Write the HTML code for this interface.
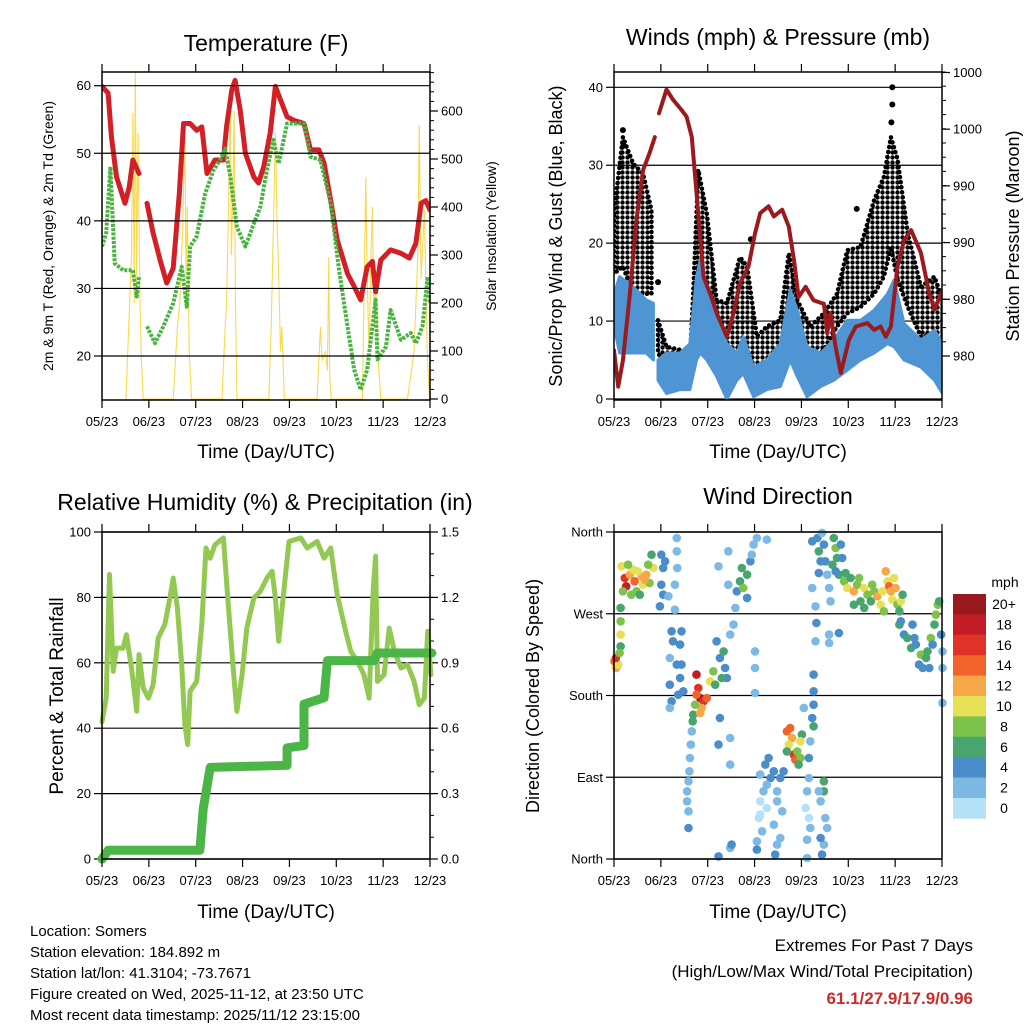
<!DOCTYPE html>
<html><head><meta charset="utf-8"><title>Station Meteogram</title>
<style>
html,body{margin:0;padding:0;background:#fff}
svg{display:block;font-family:"Liberation Sans",Arial,sans-serif}
</style></head>
<body>
<svg id="chart" width="1024" height="1024" viewBox="0 0 1024 1024" xmlns="http://www.w3.org/2000/svg">
<defs>
<pattern id="dotpat" width="5" height="5" patternUnits="userSpaceOnUse"><circle cx="2.5" cy="2.5" r="2.2" fill="#000"/></pattern>
</defs>
<rect x="0" y="0" width="1024" height="1024" fill="#fff"/>
<g id="layer"></g>
<text x="266" y="51" font-size="23" text-anchor="middle">Temperature (F)</text>
<text x="778" y="45" font-size="23" text-anchor="middle">Winds (mph) &amp; Pressure (mb)</text>
<text x="265" y="510" font-size="23" text-anchor="middle">Relative Humidity (%) &amp; Precipitation (in)</text>
<text x="778" y="504" font-size="23" text-anchor="middle">Wind Direction</text>
<text x="266" y="458" font-size="19" text-anchor="middle">Time (Day/UTC)</text>
<text x="778" y="458" font-size="19" text-anchor="middle">Time (Day/UTC)</text>
<text x="266" y="918" font-size="19" text-anchor="middle">Time (Day/UTC)</text>
<text x="778" y="918" font-size="19" text-anchor="middle">Time (Day/UTC)</text>
<text transform="translate(53,236) rotate(-90)" font-size="14" text-anchor="middle">2m &amp; 9m T (Red, Orange) &amp; 2m Td (Green)</text>
<text transform="translate(496,236) rotate(-90)" font-size="14" text-anchor="middle">Solar Insolation (Yellow)</text>
<text transform="translate(562,236) rotate(-90)" font-size="18" text-anchor="middle">Sonic/Prop Wind &amp; Gust (Blue, Black)</text>
<text transform="translate(1019,236) rotate(-90)" font-size="18" text-anchor="middle">Station Pressure (Maroon)</text>
<text transform="translate(63,696) rotate(-90)" font-size="19" text-anchor="middle">Percent &amp; Total Rainfall</text>
<text transform="translate(539,696) rotate(-90)" font-size="18" text-anchor="middle">Direction (Colored By Speed)</text>
<text x="1005" y="587" font-size="14" text-anchor="middle">mph</text>
<g font-size="15">
<text x="30" y="936">Location: Somers</text>
<text x="30" y="957">Station elevation: 184.892 m</text>
<text x="30" y="978">Station lat/lon: 41.3104; -73.7671</text>
<text x="30" y="999">Figure created on Wed, 2025-11-12, at 23:50 UTC</text>
<text x="30" y="1020">Most recent data timestamp: 2025/11/12 23:15:00</text>
</g>
<text x="973" y="951" font-size="17" text-anchor="end">Extremes For Past 7 Days</text>
<text x="973" y="977" font-size="17" text-anchor="end">(High/Low/Max Wind/Total Precipitation)</text>
<text x="973" y="1004" font-size="17" font-weight="bold" fill="#cc2b2b" text-anchor="end">61.1/27.9/17.9/0.96</text>
</svg>
<script>
// ---------- data ----------
const xTickLabels = ["05/23","06/23","07/23","08/23","09/23","10/23","11/23","12/23"];
const tempTicks = [20,30,40,50,60];
const solarTicks = [0,100,200,300,400,500,600];
const windTicks = [0,10,20,30,40];
const pressTickVals = [977.5,982.5,987.5,992.5,997.5,1002.5];
const pressTickLabels = ["980","980","990","990","1000","1000"];
const rhTicks = [0,20,40,60,80,100];
const rainTicks = [0,0.3,0.6,0.9,1.2,1.5];
const rainTickLabels = ["0.0","0.3","0.6","0.9","1.2","1.5"];
const dirTicks = [0,90,180,270,360];
const dirTickLabels = ["North","East","South","West","North"];
const speedBins = ["0","2","4","6","8","10","12","14","16","18","20+"];
const speedColors = ["#b4e1f6","#7cb9e4","#4a8dc8","#47a56d","#7cc24b","#e6e057","#f6a847","#f0632b","#df3327","#c21d26","#991a1d"];

const tempT = [[0,59.9],[0.13,58.9],[0.2,52.5],[0.31,46.5],[0.49,42.6],[0.58,45],[0.66,49],[0.79,47],null,[0.96,42.6],[1.09,38.2],[1.24,34.2],[1.38,30.8],[1.52,33],[1.65,44],[1.74,54.4],[1.88,54.4],[2.02,53.4],[2.13,53.9],[2.24,47],[2.41,49],[2.59,49],[2.66,54],[2.77,59.4],[2.84,60.8],[2.95,56.4],[3.06,50],[3.24,46.5],[3.34,45.6],[3.45,48],[3.59,53],[3.7,59.9],[3.81,57.9],[3.95,55.4],[4.09,54.9],[4.31,54.4],[4.45,50.5],[4.63,50.5],[4.74,48.5],[4.88,43],[5.02,37.2],[5.24,32.2],[5.38,30.3],[5.52,28.3],[5.66,33.2],[5.77,34],[5.84,29.5],[5.95,34.2],[6.16,35.7],[6.38,35.2],[6.56,34.5],[6.7,36.7],[6.81,42.6],[6.91,43],[7,41.6]];
const tempTd = [[0,36.2],[0.09,38.2],[0.18,48],[0.27,33.7],[0.45,32.7],[0.66,32.7],[0.74,28.8],[0.79,31.7],null,[0.96,24.4],[1.13,21.9],[1.31,24.4],[1.52,27.8],[1.7,33.2],[1.81,27.3],[1.88,36.2],[2.02,37.7],[2.2,44],[2.38,47.5],[2.52,49],[2.63,50.7],[2.74,46.5],[2.88,39.1],[3.06,36.2],[3.24,39.6],[3.38,42.1],[3.52,47.5],[3.66,52],[3.77,48.5],[3.95,54.4],[4.31,54.4],[4.45,49.5],[4.66,49],[4.88,42.6],[5.06,32.7],[5.24,24.4],[5.38,18],[5.52,15],[5.66,18],[5.84,28.3],[5.88,19.5],[6.06,21.4],[6.16,26.8],[6.38,22.4],[6.59,23.4],[6.7,21.9],[6.84,24.4],[6.95,31.7],[7,27.8]];
const solar = [[0.51,0],[0.63,300],[0.66,596],[0.69,200],[0.71,682],[0.74,250],[0.77,554],[0.81,200],[0.84,81],[0.88,0],[1.52,0],[1.61,150],[1.66,200],[1.72,350],[1.77,567],[1.79,250],[1.82,400],[1.86,100],[1.91,0],[2.56,0],[2.63,150],[2.66,200],[2.7,400],[2.74,644],[2.76,300],[2.79,400],[2.82,600],[2.85,200],[2.88,0],[3.56,0],[3.61,150],[3.66,370],[3.7,554],[3.74,350],[3.76,300],[3.81,100],[3.84,150],[3.89,0],[4.59,0],[4.66,150],[4.7,80],[4.77,100],[4.81,60],[4.84,296],[4.86,50],[4.89,0],[5.56,0],[5.59,200],[5.63,462],[5.66,250],[5.7,100],[5.74,300],[5.77,400],[5.81,150],[5.84,250],[5.88,100],[5.95,0],[6.52,0],[6.59,50],[6.66,100],[6.74,300],[6.77,571],[6.81,250],[6.88,394],[6.94,100],[6.99,0]];
// sustained wind envelope [t, high, low]
const windBand = [[0,13.5,9.3],[0.12,15.7,5.9],[0.41,14.4,5.9],[0.69,12.7,5.9],[0.84,12.3,5],null,[0.94,5,2.4],[1.12,5.9,0.7],[1.41,5.9,1.2],[1.62,7.1,1.2],[1.76,15.7,5],[1.84,17.8,5.9],[1.98,14.4,5],[2.19,10.1,2.9],[2.41,7.1,0],[2.62,5.9,2.4],[2.76,8,3.3],[2.98,4.1,0.3],[3.26,5,1.2],[3.55,7.1,1.6],[3.76,14,5],[3.91,11.4,2.9],[4.12,6.7,0.3],[4.41,5.9,1.6],[4.69,7.6,2.4],[4.98,10.1,3.7],[5.26,10.1,5],[5.55,11.4,5.9],[5.84,13.5,7.1],[5.98,15.3,6.7],[6.19,9.7,5],[6.55,7.6,4.1],[6.84,8.8,2.4],[7.01,7.1,0.7]];
// gust envelope [t, high, low]
const gustBand = [[0,23.8,16.1],[0.19,33.6,17],[0.41,30.2,13.5],[0.62,28.9,13.5],[0.8,24.2,13.5],null,[0.94,10.1,5.9],[1.12,6.7,4.1],[1.41,6.3,4.1],[1.62,5,3.3],[1.69,13.5,5],[1.8,29.4,17],[1.98,23.8,13.5],[2.19,12.7,8],[2.41,12.3,5],[2.69,18.2,6.3],[2.84,17,6.3],[3.05,8,2.9],[3.26,9.3,4.1],[3.55,10.1,5],[3.73,18.7,13.5],[3.91,12.7,6.7],[4.19,9.3,5],[4.48,11,6.3],[4.76,13.5,9.3],[4.98,19.1,11],[5.26,19.5,11.8],[5.55,25.5,13.5],[5.76,28.5,15.7],[5.91,33.6,19.5],[6.05,30.8,15.3],[6.27,21.2,11.8],[6.55,14.4,8],[6.84,15.7,8.4],[7.01,12.7,5]];
const gustOutliers = [[5.94,40],[5.94,37.8],[0.19,34.5],[0.2,32.5],[5.92,35.5],[2.92,20.5],[5.18,24.4],[0.94,15]];
const pressure = [[0,978],[0.09,974.8],[0.19,977.1],[0.34,983],[0.48,989.5],[0.62,993.9],[0.76,995.4],[0.87,996.8],null,[0.96,998.9],[1.12,1001],[1.26,1000.1],[1.44,999.2],[1.55,998.6],[1.66,996.8],[1.76,991.9],[1.91,984.5],[2.05,983],[2.19,981.3],[2.41,979.2],[2.55,981.3],[2.69,983.9],[2.87,985.4],[3.01,988.3],[3.12,990.1],[3.3,990.7],[3.41,989.8],[3.59,990.4],[3.73,988.9],[3.84,986],[3.94,982.7],[4.09,983.6],[4.26,982.4],[4.48,982.1],[4.55,979.5],[4.62,981.3],[4.73,978.3],[4.84,976],[5.01,978.9],[5.16,980.1],[5.41,980.4],[5.55,979.8],[5.69,980.1],[5.8,979.2],[5.91,980.1],[6.05,985.4],[6.19,987.7],[6.34,988.6],[6.55,986.6],[6.73,983],[6.84,981.6],[7.01,983.3]];
const rh = [[0,42],[0.09,49.2],[0.16,87],[0.24,57.4],[0.31,64.5],[0.45,64.5],[0.52,68.6],[0.63,58.4],[0.74,45.2],[0.79,62.5],[0.88,52.3],[0.99,49.2],[1.09,53.3],[1.2,67.6],[1.34,71.7],[1.45,79.8],[1.52,85.9],[1.61,76.8],[1.7,59.4],[1.77,41],[1.83,35],[1.88,51.3],[2.02,54.3],[2.13,71.7],[2.22,95.1],[2.31,92],[2.41,96.1],[2.59,98.2],[2.7,76.8],[2.81,56.4],[2.88,45.2],[2.99,56.4],[3.09,70.6],[3.24,79.8],[3.38,81.9],[3.52,85.9],[3.63,88],[3.7,79.8],[3.77,66.6],[3.88,81.9],[3.99,97.1],[4.24,98.2],[4.38,95.1],[4.59,97.1],[4.74,92],[4.88,95.1],[5.02,80.9],[5.2,69.6],[5.31,63.5],[5.45,60.4],[5.59,56.4],[5.7,49.2],[5.79,82.9],[5.84,92.6],[5.88,54.3],[6.02,56.4],[6.13,70.6],[6.24,63.5],[6.38,58.4],[6.52,59.4],[6.66,54.3],[6.77,47.2],[6.88,49.2],[6.95,69.6],[7.02,56.4]];
const rain = [[0,0],[0.13,0.04],[2.09,0.04],[2.16,0.23],[2.31,0.42],[3.95,0.43],[3.95,0.51],[4.31,0.52],[4.31,0.71],[4.74,0.74],[4.81,0.91],[5.81,0.91],[5.88,0.945],[7.04,0.945]];
// wind direction obs [t, direction deg, speed mph]
const windDirObs = [[0.01,217.6,14],[0.05,210.3,12],[0.09,214,10],[0.04,221.3,16],[0.14,276.4,6],[0.14,261.7,8],[0.14,247,10],[0.14,234.1,6],[0.12,226.8,8],
[0.16,322.2,10],[0.23,309.4,16],[0.26,300.2,18],[0.34,313,12],[0.41,318.6,10],[0.44,305.7,14],[0.48,294.7,8],[0.55,291,6],[0.59,311.2,12],[0.62,302,10],[0.69,313,12],[0.76,303.9,8],[0.8,335,6],[0.84,320.4,10],[0.19,294.7,8],[0.37,291,8],[0.51,316.7,10],[0.73,324,8],[0.3,324,8],[0.66,307.5,12],
[1.01,335,4],[1.05,320.4,4],[1.01,302,4],[1.05,291,4],[0.98,278.2,4],[1.09,327.7,4],
[1.34,353.4,2],[1.34,338.7,2],[1.35,320.4,2],[1.3,302,2],[1.16,289.2,2],[1.3,274.5,2],[1.23,250.7,4],[1.26,239.7,4],[1.19,221.3,2],[1.34,214,4],[1.19,191.9,4],[1.23,173.6,4],[1.19,166.3,2],[1.44,250.7,4],[1.41,236,4],[1.44,214,4],[1.41,199.3,4],[1.48,184.6,4],[1.37,180.9,4],
[1.76,203,18],[1.8,188.3,16],[1.84,177.3,20],[1.76,180.9,14],[1.91,173.6,16],[1.98,177.3,14],[1.87,166.3,12],[1.73,169.9,8],[1.69,158.9,6],[2.05,195.6,10],[2.12,206.6,8],[2.16,191.9,6],[1.84,160.7,12],
[1.66,140.6,2],[1.64,125.9,2],[1.62,111.2,2],[1.61,96.5,2],[1.59,85.5,2],[1.56,74.5,2],[1.56,63.5,2],[1.59,52.5,2],[1.59,34.1,4],[1.68,151.6,6],
[2.19,239.7,4],[2.26,221.3,4],[2.34,228.6,6],[2.37,210.3,4],[2.41,199.3,4],[2.3,199.3,6],[2.48,247,2],[2.55,258,2],[2.59,276.4,2],[2.62,294.7,4],[2.69,305.7,6],[2.73,320.4,6],[2.76,298.4,8],[2.84,313,6],[2.84,287.4,4],[2.91,327.7,4],[2.94,335,2],[2.98,346.1,2],[2.44,338.7,2],[2.44,302,2],[2.23,322.2,2],[2.26,155.2,4],[2.23,125.9,4],[2.48,133.2,2],[2.48,103.9,2],[3.05,353.4,2],[3.26,351.6,2],[3.01,228.6,2],[3.01,210.3,2],[3.01,182.8,2],[2.48,12.1,2],[2.23,2.9,4],[2.51,15.8,4],
[3.12,92.9,2],[3.19,74.5,2],[3.26,56.2,0],[3.34,89.2,4],[3.41,96.5,4],[3.48,74.5,2],[3.55,89.2,4],[3.62,96.5,4],[3.09,45.1,0],[3.12,63.5,0],[3.16,30.5,2],[3.23,103.9,4],[3.3,111.2,4],[3.41,37.8,2],[3.48,15.8,2],[3.55,23.1,2],[3.05,19.5,2],[3.05,10.3,4],[3.44,4.8,4],[3.59,52.5,2],[3.26,81.8,2],[3.48,63.5,2],[3.12,48.8,0],
[3.69,140.6,14],[3.76,144.2,14],[3.8,133.2,12],[3.73,125.9,10],[3.84,114.9,16],[3.87,109.4,14],[3.91,118.5,8],[3.98,111.2,8],[3.69,118.5,6],[3.94,103.9,6],[4.01,136.9,6],[3.98,129.6,10],
[4.26,203,4],[4.26,184.6,4],[4.26,169.9,4],[4.23,155.2,4],[4.26,146.1,6],[4.19,129.6,2],[4.16,111.2,4],[4.16,89.2,2],[4.12,74.5,2],[4.09,56.2,0],[4.16,45.1,0],[4.19,34.1,2],[4.12,21.3,2],[4.12,1.1,2],[4.05,166.3,2],[4.48,85.5,6],[4.48,74.5,6],[4.51,45.1,2],[4.55,34.1,2],[4.48,15.8,2],[4.44,4.8,4],[4.41,23.1,4],[4.41,63.5,2],[4.37,74.5,2],
[4.23,349.8,4],[4.34,353.4,4],[4.37,338.7,6],[4.41,327.7,4],[4.37,314.9,4],[4.44,359,2],[4.48,346.1,4],[4.51,327.7,4],[4.55,313,2],[4.59,298.4,2],[4.62,283.7,2],[4.69,353.4,6],[4.73,342.4,8],[4.76,331.4,6],[4.8,313,6],[4.84,346.1,4],[4.87,331.4,4],[4.23,298.4,2],[4.3,278.2,2],[4.32,259.8,4],[4.3,239.7,2],[4.59,247,2],[4.59,237.8,2],[4.8,248.8,4],[4.66,324,6],[4.73,316.7,4],
[4.91,305.7,8],[4.98,298.4,10],[5.05,309.4,6],[5.12,294.7,12],[5.19,302,8],[5.26,283.7,6],[5.34,298.4,10],[5.41,291,8],[5.48,283.7,6],[5.55,294.7,8],[5.62,289.2,12],[5.69,280,10],[5.76,272.7,8],[5.8,316.7,12],[5.84,305.7,10],[5.87,300.2,14],[5.91,294.7,12],[5.94,285.5,10],[5.98,309.4,10],[6.01,298.4,12],[6.05,280,8],[6.09,272.7,6],[6.12,283.7,10],[6.16,291,6],[5.12,280,6],[5.34,276.4,6],[5.51,302,8],[5.73,294.7,10],[5.23,309.4,8],[4.94,314.9,6],
[6.09,258,6],[6.12,261.7,4],[6.19,247,4],[6.26,243.3,6],[6.34,232.3,6],[6.37,258,4],[6.44,236,4],[6.51,214,4],[6.55,225,8],[6.59,210.3,4],[6.66,221.3,6],[6.69,228.6,6],[6.76,243.3,8],[6.8,236,4],[6.84,258,6],[6.87,269,8],[6.91,280,8],[6.94,283.7,6],[6.98,247,4],[7.01,228.6,2],[7.01,210.3,2],[7.01,171.8,2],[6.73,210.3,4],[6.41,243.3,4]];

// ---------- helpers ----------
const NS = "http://www.w3.org/2000/svg";
const layer = document.getElementById("layer");
function mk(tag, attrs, parent) {
  const e = document.createElementNS(NS, tag);
  for (const k in attrs) e.setAttribute(k, attrs[k]);
  (parent || layer).appendChild(e);
  return e;
}
function lin(d0, d1, r0, r1) { return v => r0 + (v - d0) * (r1 - r0) / (d1 - d0); }
function pathFrom(arr, xs, ys) {
  let d = "", pen = false;
  for (const p of arr) {
    if (!p) { pen = false; continue; }
    d += (pen ? "L" : "M") + xs(p[0]).toFixed(1) + "," + ys(p[1]).toFixed(1);
    pen = true;
  }
  return d;
}
function bandFrom(arr, xs, ys) {
  const segs = []; let cur = [];
  for (const p of arr) { if (!p) { if (cur.length) segs.push(cur); cur = []; } else cur.push(p); }
  if (cur.length) segs.push(cur);
  return segs.map(s => {
    let d = "";
    s.forEach((p, i) => d += (i ? "L" : "M") + xs(p[0]).toFixed(1) + "," + ys(p[1]).toFixed(1));
    for (let i = s.length - 1; i >= 0; i--) d += "L" + xs(s[i][0]).toFixed(1) + "," + ys(s[i][2]).toFixed(1);
    return d + "Z";
  }).join("");
}

function frame(g, P, name) {
  const fr = mk("rect", {x: P.x0, y: P.y0, width: P.x1 - P.x0, height: P.y1 - P.y0, fill: "none", stroke: "#000", "stroke-width": 1.5}, g);
  
  
  const xs = lin(0, 7, P.x0, P.x1);
  xTickLabels.forEach((lab, i) => {
    const x = xs(i);
    const tb = mk("line", {x1: x, x2: x, y1: P.y1, y2: P.y1 + 8, stroke: "#000", "stroke-width": 1.2}, g);
    
    
    const tt = mk("line", {x1: x, x2: x, y1: P.y0, y2: P.y0 - 8, stroke: "#000", "stroke-width": 1.2}, g);
    
    
    const t = mk("text", {x: x, y: P.y1 + 26, "font-size": 13, "text-anchor": "middle"}, g);
    t.textContent = lab;
    
    
  });
  return xs;
}
function leftAxis(g, P, vals, labels, ys, grid, name, fs) {
  vals.forEach((v, i) => {
    const y = ys(v);
    if (grid) {
      const gl = mk("line", {x1: P.x0, x2: P.x1, y1: y, y2: y, stroke: "#000", "stroke-width": 1.2}, g);
      
      
    }
    const tk = mk("line", {x1: P.x0 - 8, x2: P.x0, y1: y, y2: y, stroke: "#000", "stroke-width": 1.2}, g);
    
    
    const t = mk("text", {x: P.x0 - 11, y: y + 4.5, "font-size": fs || 13, "text-anchor": "end"}, g);
    t.textContent = labels[i];
    
    
  });
}
function rightAxis(g, P, vals, labels, ys, name, minorStep) {
  if (minorStep) {
    for (let y = ys(vals[0]); y >= P.y0 - 0.5; y -= minorStep) {
      const mt = mk("line", {x1: P.x1, x2: P.x1 + 4, y1: y, y2: y, stroke: "#000", "stroke-width": 1}, g);
      
      
    }
  }
  vals.forEach((v, i) => {
    const y = ys(v);
    const tk = mk("line", {x1: P.x1, x2: P.x1 + 8, y1: y, y2: y, stroke: "#000", "stroke-width": 1.2}, g);
    
    
    const t = mk("text", {x: P.x1 + 11, y: y + 4.5, "font-size": 13}, g);
    t.textContent = labels[i];
    
    
  });
}
function clipFor(P, id) {
  const cp = mk("clipPath", {id: id});
  mk("rect", {x: P.x0, y: P.y0, width: P.x1 - P.x0, height: P.y1 - P.y0}, cp);
  return "url(#" + id + ")";
}

// ---------- Panel 1: temperature ----------
(function () {
  const P = {x0: 102, x1: 430, y0: 72, y1: 400};
  const g = mk("g", {});  
  const xs = lin(0, 7, P.x0, P.x1);
  const yT = lin(20, 60, 356, 85.7);
  const yS = lin(0, 600, 399, 111);
  const cl = clipFor(P, "c1");
  const sg = mk("g", {"clip-path": cl}, g);
  const sp = mk("path", {d: pathFrom(solar, xs, yS), fill: "none", stroke: "#f8d94f", "stroke-width": 1.1}, sg);
   
  leftAxis(g, P, tempTicks, tempTicks.map(String), yT, true, "temperature");
  rightAxis(g, P, solarTicks, solarTicks.map(String), yS, "solar", 9.6);
  const rp = mk("path", {d: pathFrom(tempT, xs, yT), fill: "none", stroke: "#d32027", "stroke-width": 5, "stroke-linejoin": "round", "stroke-linecap": "round"}, sg);
   
  const gp = mk("path", {d: pathFrom(tempTd, xs, yT), fill: "none", stroke: "#4bb244", "stroke-width": 4, "stroke-dasharray": "3 1.3", "stroke-linejoin": "round"}, sg);
   
  frame(g, P, "temperature");
})();

// ---------- Panel 2: winds & pressure ----------
(function () {
  const P = {x0: 614, x1: 942, y0: 72, y1: 400};
  const g = mk("g", {});  
  const xs = lin(0, 7, P.x0, P.x1);
  const yW = lin(0, 40, 399, 87.3);
  const yP = lin(977.5, 1002.5, 356, 72.5);
  const cl = clipFor(P, "c2");
  leftAxis(g, P, windTicks, windTicks.map(String), yW, true, "wind");
  rightAxis(g, P, pressTickVals, pressTickLabels, yP, "pressure", 14.2);
  const sg = mk("g", {"clip-path": cl}, g);
  const gb = mk("path", {d: bandFrom(gustBand, xs, yW), fill: "url(#dotpat)", stroke: "#000", "stroke-width": 4.5, "stroke-dasharray": "0.1 5", "stroke-linecap": "round"}, sg);
   
  gustOutliers.forEach(p => {
    const c = mk("circle", {cx: xs(p[0]), cy: yW(p[1]), r: 3, fill: "#000"}, sg);
     
  });
  const wb = mk("path", {d: bandFrom(windBand, xs, yW), fill: "#4f95d3", stroke: "#4f95d3", "stroke-width": 3, "stroke-linejoin": "round"}, sg);
   
  const pp = mk("path", {d: pathFrom(pressure, xs, yP), fill: "none", stroke: "#9b1a1e", "stroke-width": 4, "stroke-linejoin": "round", "stroke-linecap": "round"}, sg);
   
  frame(g, P, "winds");
})();

// ---------- Panel 3: RH & precip ----------
(function () {
  const P = {x0: 102, x1: 430, y0: 532, y1: 859};
  const g = mk("g", {});  
  const xs = lin(0, 7, P.x0, P.x1);
  const yR = lin(0, 100, 859, 532);
  const yIn = lin(0, 1.5, 859, 532);
  leftAxis(g, P, rhTicks, rhTicks.map(String), yR, true, "humidity");
  rightAxis(g, P, rainTicks, rainTickLabels, yIn, "rainfall", 21.8);
  const hp = mk("path", {d: pathFrom(rh, xs, yR), fill: "none", stroke: "#93c953", "stroke-width": 5, "stroke-linejoin": "round", "stroke-linecap": "round"}, g);
   
  const rp = mk("path", {d: pathFrom(rain, xs, yIn), fill: "none", stroke: "#4bb548", "stroke-width": 9, "stroke-linejoin": "round", "stroke-linecap": "round"}, g);
   
  frame(g, P, "humidity");
})();

// ---------- Panel 4: wind direction ----------
(function () {
  const P = {x0: 614, x1: 942, y0: 532, y1: 859};
  const g = mk("g", {});  
  const xs = lin(0, 7, P.x0, P.x1);
  const yD = lin(0, 360, 859, 532);
  leftAxis(g, P, dirTicks, dirTickLabels, yD, true, "direction");
  windDirObs.forEach(p => {
    const bin = Math.max(0, Math.min(10, Math.round(p[2] / 2)));
    const c = mk("circle", {cx: xs(p[0]).toFixed(1), cy: yD(p[1]).toFixed(1), r: 4.3, fill: speedColors[bin]}, g);
    
    
  });
  frame(g, P, "direction");
  // colorbar
  const cb = mk("g", {});  
  const top = 594, h = 20.4;
  for (let i = 0; i < speedBins.length; i++) {
    const idx = speedBins.length - 1 - i;
    const r = mk("rect", {x: 953, y: top + i * h, width: 33, height: h + 0.3, fill: speedColors[idx]}, cb);
    
    
    const t = mk("text", {x: 1004, y: top + i * h + 15, "font-size": 14, "text-anchor": "middle"}, cb);
    t.textContent = speedBins[idx];
    
    
  }
})();
</script>
</body></html>
